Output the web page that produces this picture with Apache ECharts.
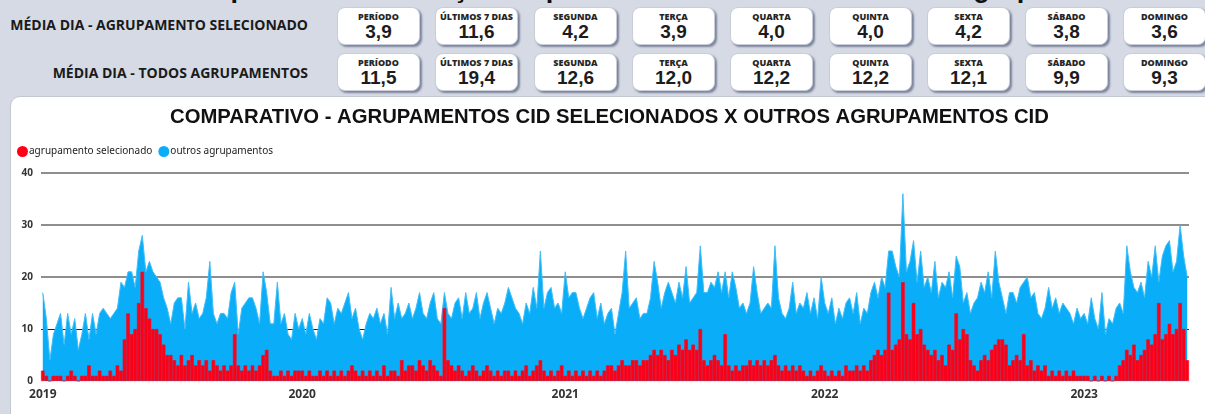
<!DOCTYPE html>
<html lang="pt-BR">
<head>
<meta charset="utf-8">
<script src="https://cdn.jsdelivr.net/npm/echarts@6/dist/echarts.min.js"></script>
<style>
    * { margin: 0; padding: 0; box-sizing: border-box; }
    html, body { width: 1205px; height: 414px; overflow: hidden; background: #d6dae4; font-family: "Open Sans", sans-serif; }
    .page-title { position: absolute; left: 0; top: -27px; width: 1300px; text-align: center; font: bold 27px "Liberation Sans", sans-serif; color: #111; white-space: nowrap; }
    .row-label { position: absolute; left: 0; width: 308px; text-align: right; font-weight: bold; font-size: 14px; color: #1a1a1a; white-space: nowrap; }
    .kpi { position: absolute; width: 83px; height: 38px; background: #fff; border-radius: 8px; border: 1px solid #c9cdd8; box-shadow: 2px 2px 2px rgba(95, 105, 135, 0.75); text-align: center; }
    .kpi .lbl { position: absolute; left: 0; right: 0; top: 2px; font-weight: 800; font-size: 9px; color: #262626; white-space: nowrap; }
    .kpi .val { position: absolute; left: 0; right: 0; top: 13px; font: bold 19px "Liberation Sans", sans-serif; color: #1c1c1c; }
    .chart-card { position: absolute; left: 10px; top: 96px; width: 1210px; height: 340px; background: #fff; border: 1px solid #c3c7d1; border-radius: 10px; }
    #chart { position: absolute; left: 0; top: 0; width: 1205px; height: 414px; }
</style>
</head>
<body>
<div class="page-title">Comparativo de evolução de pacientes do CID selecionado x agrupamento</div>
<div class="row-label" style="top: 15px;">MÉDIA DIA - AGRUPAMENTO SELECIONADO</div>
<div class="row-label" style="top: 63px;">MÉDIA DIA - TODOS AGRUPAMENTOS</div>
<div id="kpis"></div>
<div class="chart-card"></div>
<div id="chart"></div>
<script>
// rótulos e médias dos cartões do topo
const kpiLabels = ["PERÍODO", "ÚLTIMOS 7 DIAS", "SEGUNDA", "TERÇA", "QUARTA", "QUINTA", "SEXTA", "SÁBADO", "DOMINGO"];
const avgSelected = [3.9, 11.6, 4.2, 3.9, 4.0, 4.0, 4.2, 3.8, 3.6];
const avgAll = [11.5, 19.4, 12.6, 12.0, 12.2, 12.2, 12.1, 9.9, 9.3];

// ocorrências a cada 5 dias (a partir de 1º de janeiro de cada ano)
const selected2019 = [2, 1, 0, 1, 1, 1, 0, 1, 2, 1, 0, 1, 1, 3, 1, 1, 2, 1, 1, 2, 1, 3, 2, 8, 13, 9, 10, 15, 21, 14, 12, 10, 10, 9, 7, 5, 5, 4, 3, 5, 3, 4, 5, 3, 4, 3, 4, 2, 4, 3, 2, 3, 2, 3, 9, 3, 2, 3, 2, 3, 2, 3, 5, 6, 2, 1, 1, 2, 1, 2, 1, 2, 2];
const others2019 = [17, 12, 4, 9, 11, 13, 7, 13, 9, 12, 6, 9, 13, 8, 13, 9, 13, 14, 13, 12, 13, 14, 19, 18, 21, 21, 18, 25, 28, 21, 23, 21, 20, 19, 16, 14, 11, 15, 16, 16, 10, 19, 13, 15, 12, 13, 16, 23, 13, 11, 13, 13, 12, 17, 19, 9, 14, 15, 16, 16, 14, 11, 21, 17, 11, 11, 19, 11, 13, 9, 8, 13, 10];

const selected2020 = [2, 1, 2, 1, 1, 2, 1, 2, 1, 2, 1, 2, 1, 2, 3, 2, 1, 2, 1, 2, 1, 2, 1, 3, 1, 2, 2, 1, 4, 2, 3, 3, 2, 4, 3, 2, 4, 3, 2, 1, 14, 4, 3, 2, 3, 2, 1, 2, 3, 2, 1, 2, 3, 2, 1, 2, 1, 2, 2, 1, 2, 1, 2, 3, 1, 2, 3, 4, 2, 1, 2, 1, 2, 3];
const others2020 = [12, 9, 13, 10, 8, 12, 11, 16, 15, 11, 14, 13, 15, 17, 12, 14, 10, 8, 11, 13, 12, 14, 11, 13, 9, 18, 12, 15, 12, 13, 15, 12, 14, 17, 13, 12, 15, 17, 12, 11, 17, 13, 12, 15, 16, 12, 17, 13, 14, 17, 12, 15, 17, 14, 11, 14, 13, 15, 18, 16, 14, 13, 11, 15, 13, 18, 14, 25, 14, 17, 18, 14, 15, 13];

const selected2021 = [1, 2, 1, 2, 1, 2, 1, 2, 1, 2, 1, 2, 3, 3, 2, 3, 4, 3, 3, 4, 4, 3, 4, 4, 5, 6, 5, 6, 5, 4, 6, 5, 7, 6, 8, 6, 7, 6, 10, 4, 3, 4, 5, 4, 3, 9, 3, 2, 3, 2, 3, 3, 4, 3, 4, 3, 4, 3, 4, 5, 3, 2, 3, 2, 3, 2, 3, 2, 1, 2, 1, 2, 3];
const others2021 = [21, 16, 17, 17, 14, 12, 14, 16, 17, 12, 15, 11, 13, 14, 9, 13, 17, 25, 14, 15, 16, 12, 13, 13, 16, 23, 19, 14, 17, 19, 17, 15, 19, 16, 22, 15, 16, 17, 26, 17, 17, 19, 18, 21, 17, 21, 16, 21, 18, 14, 15, 13, 15, 22, 17, 13, 14, 15, 14, 26, 16, 13, 12, 14, 19, 13, 15, 14, 17, 13, 16, 12, 20];

const selected2022 = [2, 1, 2, 1, 2, 1, 3, 2, 2, 3, 2, 3, 2, 4, 5, 6, 5, 6, 17, 6, 7, 8, 19, 9, 8, 15, 9, 10, 7, 6, 5, 6, 4, 5, 3, 7, 6, 13, 8, 10, 9, 4, 3, 2, 4, 5, 4, 6, 7, 8, 8, 7, 3, 4, 5, 4, 9, 3, 4, 2, 3, 2, 3, 1, 2, 1, 2, 1, 2, 1, 2, 1, 1];
const others2022 = [15, 13, 16, 11, 14, 12, 15, 16, 13, 17, 11, 14, 13, 17, 19, 16, 20, 18, 25, 25, 22, 20, 36, 21, 23, 27, 19, 25, 18, 20, 17, 23, 16, 19, 18, 21, 16, 24, 22, 15, 17, 13, 15, 16, 19, 17, 21, 16, 25, 19, 16, 13, 17, 17, 15, 18, 19, 20, 16, 17, 13, 12, 14, 18, 14, 16, 13, 15, 14, 13, 11, 14, 12];

const selected2023 = [1, 1, 0, 1, 0, 1, 0, 1, 0, 1, 3, 4, 6, 5, 7, 4, 5, 6, 8, 7, 9, 15, 8, 9, 11, 9, 10, 15, 10, 4];
const others2023 = [13, 11, 16, 12, 10, 17, 9, 12, 11, 14, 15, 13, 26, 21, 18, 17, 19, 16, 23, 20, 26, 19, 24, 26, 27, 21, 23, 30, 24, 20];

const years = [2019, 2020, 2021, 2022, 2023];
const selectedByYear = [selected2019, selected2020, selected2021, selected2022, selected2023];
const othersByYear = [others2019, others2020, others2021, others2022, others2023];

const legendNames = ["agrupamento selecionado", "outros agrupamentos"];
const yTicks = [0, 10, 20, 30, 40];

/**
 * cartões de médias
 */
function renderKpis() {
    let html = "";
    const rows = [
        { top: 7, values: avgSelected },
        { top: 53, values: avgAll },
    ];
    rows.forEach(row => {
        row.values.forEach((v, i) => {
            const left = Math.round(337 + i * 98.3);
            html += `<div class="kpi" style="left:${left}px;top:${row.top}px">
                <div class="lbl">${kpiLabels[i]}</div>
                <div class="val">${v.toFixed(1).replace(".", ",")}</div>
            </div>`;
        });
    });
    document.getElementById("kpis").innerHTML = html;
}

// monta eixo de datas (um ponto a cada 5 dias)
const categories = [];
const selected = [];
const others = [];
years.forEach((year, k) => {
    selectedByYear[k].forEach((v, i) => {
        const d = new Date(Date.UTC(year, 0, 1 + i * 5));
        categories.push(d.toISOString().slice(0, 10));
    });
    selected.push(...selectedByYear[k]);
    others.push(...othersByYear[k]);
});

renderKpis();

const chart = echarts.init(document.getElementById("chart"));
chart.setOption({
    animation: false,
    title: {
        text: "COMPARATIVO - AGRUPAMENTOS CID SELECIONADOS X OUTROS AGRUPAMENTOS CID",
        left: 170,
        top: 107,
        padding: 0,
        textStyle: {
            fontFamily: "Liberation Sans",
            fontWeight: "bold",
            fontSize: 20.3,
            color: "#111",
        },
    },
    legend: {
        data: legendNames,
        left: 17,
        top: 146,
        padding: 0,
        icon: "circle",
        itemWidth: 11,
        itemHeight: 11,
        itemGap: 6,
        itemStyle: { borderWidth: 0 },
        textStyle: { fontFamily: "Noto Sans", fontSize: 10, color: "#222", padding: [0, 0, 0, -4] },
    },
    grid: { left: 41, right: 16, top: 173, bottom: 33 },
    xAxis: {
        type: "category",
        data: categories,
        axisLine: { show: false },
        axisTick: { show: false },
        axisLabel: {
            interval: (idx, value) => value.endsWith("-01-01"),
            formatter: value => value.slice(0, 4),
            fontFamily: "Open Sans",
            fontWeight: "bold",
            fontSize: 12,
            color: "#333",
            margin: 8,
        },
    },
    yAxis: [
        {
            type: "value",
            min: yTicks[0],
            max: yTicks[yTicks.length - 1],
            interval: 10,
            axisLabel: { fontFamily: "Open Sans", fontWeight: "bold", fontSize: 10, color: "#333", margin: 8 },
            splitLine: { lineStyle: { color: ["rgba(0,0,0,0)", "rgba(0,0,0,0)", "#8e8e8e", "#8e8e8e", "#8e8e8e"], width: 2 } },
        },
        {
            // linha escura do 10
            type: "value",
            min: yTicks[0],
            max: yTicks[yTicks.length - 1],
            interval: 10,
            axisLabel: { show: false },
            splitLine: { lineStyle: { color: ["rgba(0,0,0,0)", "#222", "rgba(0,0,0,0)", "rgba(0,0,0,0)", "rgba(0,0,0,0)"], width: 1 } },
        },
    ],
    series: [
        {
            name: legendNames[1],
            type: "line",
            data: others,
            symbol: "none",
            z: 2,
            itemStyle: { color: "#0aaef8" },
            lineStyle: { color: "#3fbdf6", width: 1 },
            areaStyle: { color: "#0aaef8", opacity: 1 },
        },
        {
            name: legendNames[0],
            type: "bar",
            data: selected,
            z: 5,
            barCategoryGap: "0%",
            itemStyle: { color: "#fd0018", borderColor: "#fd0018", borderWidth: 0.6 },
        },
    ],
});
</script>
</body>
</html>
